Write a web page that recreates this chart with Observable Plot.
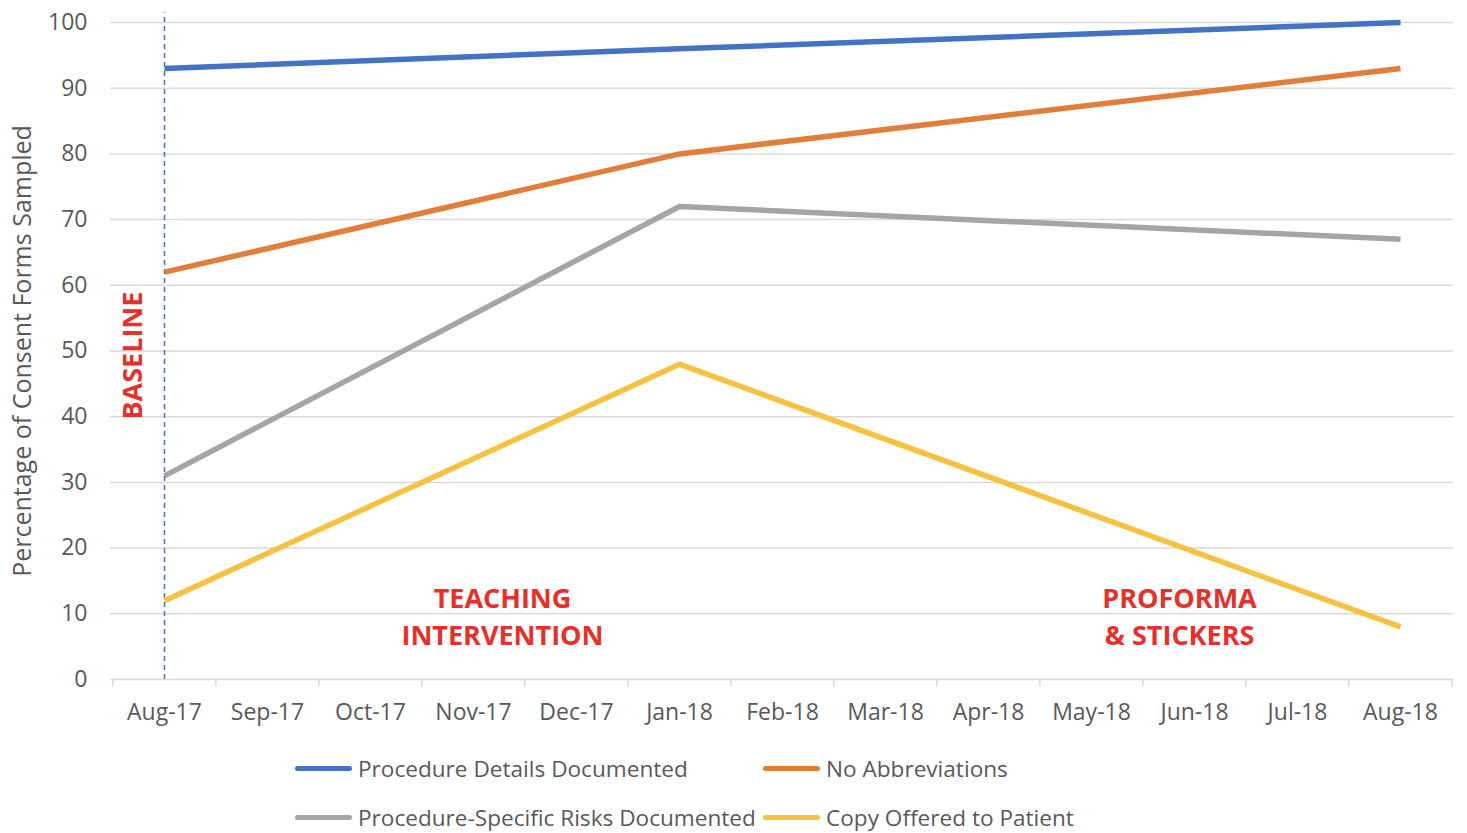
<!DOCTYPE html>
<html>
<head>
<meta charset="utf-8">
<script src="https://cdn.jsdelivr.net/npm/d3@7"></script>
<script src="https://cdn.jsdelivr.net/npm/@observablehq/plot@0.6"></script>
<style>
  html, body { margin: 0; padding: 0; background: #fff; overflow: hidden; }
  #chart { width: 1467px; }
  .legend { font-family: "Open Sans", sans-serif; font-size: 22.6px; color: #595959; margin-top: -1px; }
  .legend .row { display: flex; height: 49px; align-items: center; padding-left: 295px; }
  .legend .item { display: flex; align-items: center; }
  .legend .item:first-child { width: 468px; }
  .legend .sw { width: 57px; height: 5px; border-radius: 3px; margin-right: 6px; }
</style>
</head>
<body>
<div id="chart"></div>
<script>
const months = ["Aug-17","Sep-17","Oct-17","Nov-17","Dec-17","Jan-18","Feb-18","Mar-18","Apr-18","May-18","Jun-18","Jul-18","Aug-18"];
const sampledMonths = ["Aug-17","Jan-18","Aug-18"];
const seriesNames = ["Procedure Details Documented","No Abbreviations","Procedure-Specific Risks Documented","Copy Offered to Patient"];
const seriesColors = ["#4472C4","#E07F3C","#A5A5A5","#F5C242"];
const procedureDetails = [93, 96, 100];
const noAbbreviations = [62, 80, 93];
const specificRisks = [31, 72, 67];
const copyOffered = [12, 48, 8];
const yTicks = [0,10,20,30,40,50,60,70,80,90,100];
const yTitle = "Percentage of Consent Forms Sampled";
const baselineLabel = ["BASELINE"];
const phaseLabels = ["TEACHING\nINTERVENTION", "PROFORMA\n& STICKERS"];

const seriesValues = [procedureDetails, noAbbreviations, specificRisks, copyOffered];
const rows = [];
seriesNames.forEach((s, i) => sampledMonths.forEach((m, j) => rows.push({series: s, month: m, value: seriesValues[i][j]})));

const W = 1467, H = 745, ML = 110, MR = 14, MT = 22, MB = 66;
const step = (W - ML - MR) / months.length;
const red = "#E8302A", grid = "#D9D9D9";

const plot = Plot.plot({
  width: W, height: H,
  marginLeft: ML, marginRight: MR, marginTop: MT, marginBottom: MB,
  style: {fontFamily: "Open Sans, sans-serif", fontSize: "23px", color: "#595959", background: "#fff"},
  x: {type: "point", domain: months, padding: 0.5, align: 0.5},
  y: {domain: [0, 100]},
  color: {domain: seriesNames, range: seriesColors},
  marks: [
    Plot.ruleY(yTicks.filter(v => v > 0), {stroke: grid, strokeWidth: 1.5}),
    Plot.ruleY([0], {stroke: grid, strokeWidth: 1.5}),
    Plot.ruleX(months, {x: d => d, dx: -step / 2, y1: 0, y2: -1.1, stroke: grid, strokeWidth: 1.5}),
    Plot.ruleX([months[months.length - 1]], {x: d => d, dx: step / 2, y1: 0, y2: -1.1, stroke: grid, strokeWidth: 1.5}),
    Plot.axisX({tickSize: 0, tickPadding: 24, label: null, fontSize: 23}),
    Plot.axisY({ticks: yTicks, tickSize: 0, tickPadding: 23, label: null, fontSize: 23}),
    Plot.text([yTitle], {frameAnchor: "left", text: d => d, rotate: -90, dx: -88, textAnchor: "middle", fontSize: 25, fill: "#595959"}),
    Plot.ruleX([sampledMonths[0]], {x: d => d, y1: 0, y2: 101.5, stroke: "#4472C4", strokeWidth: 1.5, strokeDasharray: "5,4"}),
    Plot.line(rows, {x: "month", y: "value", stroke: "series", strokeWidth: 5.5, strokeLinecap: "butt", strokeLinejoin: "round"}),
    Plot.text(baselineLabel, {x: () => sampledMonths[0], y: () => 49.3, text: d => d, rotate: -90, dx: -31, fill: red, fontWeight: "bold", fontSize: 27}),
    Plot.text([phaseLabels[0]], {x: () => months[3], y: () => 9.9, text: d => d, dx: 29, lineHeight: 1.4, fill: red, fontWeight: "bold", fontSize: 27}),
    Plot.text([phaseLabels[1]], {x: () => months[10], y: () => 9.9, text: d => d, dx: -15, lineHeight: 1.4, fill: red, fontWeight: "bold", fontSize: 27})
  ]
});
document.getElementById("chart").appendChild(plot);

const legend = document.createElement("div");
legend.className = "legend";
for (let r = 0; r < 2; r++) {
  const row = document.createElement("div");
  row.className = "row";
  for (let c = 0; c < 2; c++) {
    const i = r * 2 + c;
    const item = document.createElement("div");
    item.className = "item";
    const sw = document.createElement("span");
    sw.className = "sw";
    sw.style.background = seriesColors[i];
    const tx = document.createElement("span");
    tx.textContent = seriesNames[i];
    item.appendChild(sw); item.appendChild(tx);
    row.appendChild(item);
  }
  legend.appendChild(row);
}
document.getElementById("chart").appendChild(legend);
</script>
</body>
</html>
